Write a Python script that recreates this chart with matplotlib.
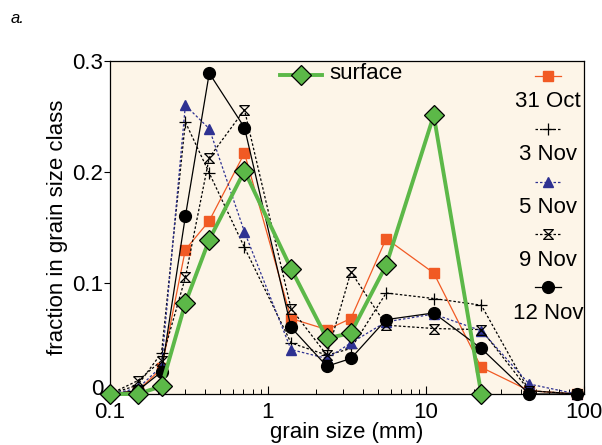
import matplotlib
matplotlib.use('Agg')
import matplotlib.pyplot as plt
import matplotlib.transforms as mtrans
from matplotlib.ticker import FixedLocator, NullFormatter

plt.rcParams['font.family'] = ['Liberation Sans', 'DejaVu Sans']

# sieve classes (mm)
sizes = [0.1, 0.15, 0.212, 0.3, 0.425, 0.71, 1.4, 2.36, 3.35, 5.6, 11.2, 22.4, 45, 90]

oct31 = [0, 0.003, 0.023, 0.130, 0.156, 0.217, 0.068, 0.058, 0.068, 0.140, 0.109, 0.024, 0.003, 0]
nov3 = [0, 0.008, 0.037, 0.245, 0.199, 0.132, 0.046, 0.035, 0.041, 0.091, 0.086, 0.080, 0.003, 0]
nov5 = [0, 0.005, 0.025, 0.260, 0.239, 0.146, 0.040, 0.032, 0.046, 0.065, 0.072, 0.057, 0.009, 0]
nov9 = [0, 0.012, 0.030, 0.105, 0.213, 0.256, 0.077, 0.035, 0.110, 0.062, 0.059, 0.058, 0.003, 0]
nov12 = [0, 0.003, 0.020, 0.160, 0.289, 0.240, 0.060, 0.025, 0.032, 0.067, 0.073, 0.041, 0, 0]

surf_sizes = sizes[:12]
surface = [0, 0, 0.007, 0.082, 0.139, 0.201, 0.113, 0.050, 0.055, 0.116, 0.251, 0]

labels = ['31 Oct', '3 Nov', '5 Nov', '9 Nov', '12 Nov']

# hourglass marker
hourglass = [(-1, 1), (1, 1), (-1, -1), (1, -1), (-1, 1)]

orange = '#f15a24'
blue = '#2e3192'
green = '#5cb848'
dots = (0, (2, 1.6))

line_st = [
    dict(color=orange, ls='-', lw=0.9),
    dict(color='black', ls=dots, lw=0.9),
    dict(color=blue, ls=dots, lw=0.9),
    dict(color='black', ls=dots, lw=0.9),
    dict(color='black', ls='-', lw=0.9),
]
mark_st = [
    dict(marker='s', ms=6.5, mfc=orange, mec=orange),
    dict(marker='+', ms=9, mew=0.9),
    dict(marker='^', ms=7, mfc=blue, mec=blue),
    dict(marker=hourglass, ms=7, mfc='none', mec='black', mew=0.9),
    dict(marker='o', ms=8.5, mfc='black', mec='black'),
]
surf_line = dict(color=green, ls='-', lw=2.8)
surf_mark = dict(marker='D', ms=10, mfc=green, mec='black', mew=0.9)

fig = plt.figure(figsize=(6.02, 4.45), dpi=100)
ax = fig.add_axes([0.1827, 0.1146, 0.7873, 0.7484])
ax.set_facecolor('#fdf5e8')

series = [oct31, nov3, nov5, nov9, nov12]
for vals, ls, ms in zip(series, line_st, mark_st):
    ax.plot(sizes, vals, clip_on=False, zorder=3, **ls, **ms)
ax.plot(surf_sizes, surface, clip_on=False, zorder=4, **surf_line, **surf_mark)

ax.set_xscale('log')
ax.set_xlim(0.1, 100)
ax.set_ylim(0, 0.3)
ax.set_yticks([0, 0.1, 0.2, 0.3])
ax.set_yticklabels(['0', '0.1', '0.2', '0.3'])
ax.xaxis.set_major_locator(FixedLocator([0.1, 1, 10, 100]))
ax.set_xticklabels(['0.1', '1', '10', '100'])
minors = [m * d for d in [0.1, 1, 10] for m in range(2, 10)]
ax.xaxis.set_minor_locator(FixedLocator(minors))
ax.xaxis.set_minor_formatter(NullFormatter())
ax.tick_params(axis='x', which='major', direction='in', length=6, width=0.8, labelsize=16, pad=6)
ax.tick_params(axis='x', which='minor', direction='in', length=3.5, width=0.7)
ax.tick_params(axis='y', direction='out', length=4, width=0.8, labelsize=16, pad=1)
for s in ax.spines.values():
    s.set_linewidth(0.9)

# lift the "0" on the y axis a little so it clears "0.1" below it
zero = ax.get_yticklabels()[0]
zero.set_transform(zero.get_transform() + mtrans.ScaledTranslation(0, 5 / 72, fig.dpi_scale_trans))

ax.set_xlabel('grain size (mm)', fontsize=16, labelpad=-1)
ax.set_ylabel('fraction in grain size class', fontsize=16, labelpad=3)

fig.text(0.017, 0.958, 'a.', fontsize=12, style='italic', ha='left', va='center')

# legend drawn by hand: surface at top centre, dates stacked on the right
tr = ax.transAxes
ax.plot([0.359, 0.447], [0.958, 0.958], transform=tr, clip_on=False, zorder=5, **surf_line)
ax.plot([0.403], [0.958], transform=tr, clip_on=False, zorder=6, **surf_mark)
ax.text(0.462, 0.963, 'surface', transform=tr, fontsize=16, ha='left', va='center')

for i, (lab, ls, ms) in enumerate(zip(labels, line_st, mark_st)):
    yh = 0.955 - i * 0.1585
    ax.plot([0.897, 0.951], [yh, yh], transform=tr, clip_on=False, zorder=5, **ls)
    ax.plot([0.924], [yh], transform=tr, clip_on=False, zorder=6, ls='none', color=ls['color'], **ms)
    ax.text(0.924, yh - 0.078, lab, transform=tr, fontsize=16, ha='center', va='center')

fig.savefig('out.png', dpi=100)
